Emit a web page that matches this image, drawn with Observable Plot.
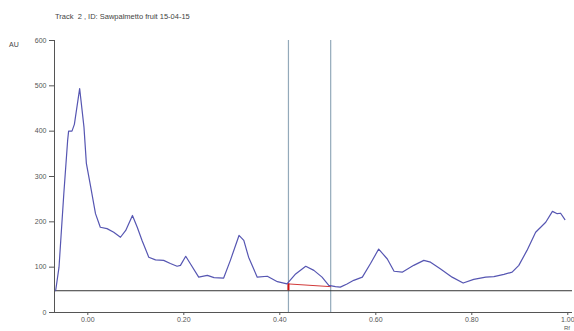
<!DOCTYPE html>
<html>
<head>
<meta charset="utf-8">
<script src="https://cdn.jsdelivr.net/npm/d3@7"></script>
<script src="https://cdn.jsdelivr.net/npm/@observablehq/plot@0.6"></script>
<style>
  html, body { margin: 0; padding: 0; background: #fff; }
  #chart svg { display: block; }
</style>
</head>
<body>
<div id="chart"></div>
<script>
// Densitometric scan (Rf vs AU)
const rf = [-0.067,-0.060,-0.050,-0.042,-0.040,-0.033,-0.028,-0.017,-0.008,-0.003,0.006,0.016,0.026,0.040,0.054,0.068,0.079,0.093,0.103,0.113,0.127,0.141,0.158,0.172,0.186,0.193,0.204,0.214,0.231,0.249,0.263,0.283,0.297,0.315,0.325,0.335,0.353,0.374,0.395,0.415,0.433,0.454,0.471,0.488,0.502,0.516,0.526,0.540,0.554,0.572,0.589,0.606,0.624,0.638,0.655,0.679,0.700,0.714,0.735,0.759,0.782,0.804,0.829,0.846,0.867,0.884,0.898,0.915,0.933,0.954,0.968,0.978,0.985,0.994];
const au = [48,100,262,380,400,400,415,494,409,329,277,218,188,185,177,166,181,214,188,159,122,116,115,108,102,104,124,107,78,82,77,76,115,170,159,122,78,80,68,63,85,102,93,78,60,57,56,63,71,78,108,140,118,91,89,104,115,111,96,78,65,73,78,79,84,89,104,137,177,199,223,218,219,205];

const markerRf = [0.418, 0.506];
const peakBaseRf = [0.418, 0.506];
const peakBaseAU = [63, 57];
const baselineAU = 48;
const xTicks = [0, 0.2, 0.4, 0.6, 0.8, 1.0];
const yTicks = [0, 100, 200, 300, 400, 500, 600];
const titleText = "Track  2 , ID: Sawpalmetto fruit 15-04-15";
const yLabel = "AU";
const xLabel = "Rf";

const xDomain = [-0.0694, 1.0098];
const curve = rf.map((r, i) => ({rf: r, au: au[i]}));
const redLine = peakBaseRf.map((r, i) => ({rf: r, au: peakBaseAU[i]}));

const font = "'Liberation Sans', Arial, sans-serif";

const chart = Plot.plot({
  width: 574,
  height: 331,
  marginLeft: 54,
  marginRight: 2,
  marginTop: 40,
  marginBottom: 19,
  style: {fontFamily: font, fontSize: "7px", color: "#555", background: "#fff"},
  x: {domain: xDomain, ticks: xTicks, tickFormat: d3.format(".2f"), tickSize: 3, tickPadding: 2, label: null},
  y: {domain: [0, 600], ticks: yTicks, tickSize: 5, tickPadding: 3, label: null},
  marks: [
    Plot.ruleX(markerRf, {y1: 0, y2: 600, stroke: "#93a9ba", strokeWidth: 1.2}),
    Plot.ruleY([baselineAU], {x1: xDomain[0], x2: xDomain[1], stroke: "#333", strokeWidth: 1}),
    Plot.ruleY([0], {x1: xDomain[0] - 0.009, x2: xDomain[1], stroke: "#555", strokeWidth: 1}),
    Plot.ruleX([xDomain[0]], {y1: 0, y2: 600, stroke: "#555", strokeWidth: 1}),
    Plot.line(redLine, {x: "rf", y: "au", stroke: "#d23a3a", strokeWidth: 1}),
    Plot.ruleX([markerRf[0]], {y1: baselineAU, y2: peakBaseAU[0], stroke: "#cc1111", strokeWidth: 2}),
    Plot.line(curve, {x: "rf", y: "au", stroke: "#5656b2", strokeWidth: 1.2}),
    Plot.axisX({ticks: xTicks, tickFormat: d3.format(".2f"), tickSize: 3, tickPadding: 2, stroke: "#555", fill: "#555", label: null}),
    Plot.axisY({ticks: yTicks, tickSize: 5, tickPadding: 3, stroke: "#555", fill: "#555", label: null})
  ]
});

const svg = d3.select(chart);
svg.append("text").attr("x", 55).attr("y", 19).attr("text-anchor", "start").attr("font-size", "7.5px").attr("fill", "#444").attr("font-family", font).text(titleText);
svg.append("text").attr("x", 9).attr("y", 47).attr("text-anchor", "start").attr("font-size", "7px").attr("fill", "#444").attr("font-family", font).text(yLabel);
svg.append("text").attr("x", 564).attr("y", 330).attr("text-anchor", "start").attr("font-size", "6px").attr("fill", "#555").attr("font-family", font).text(xLabel);

document.getElementById("chart").appendChild(chart);
</script>
</body>
</html>
